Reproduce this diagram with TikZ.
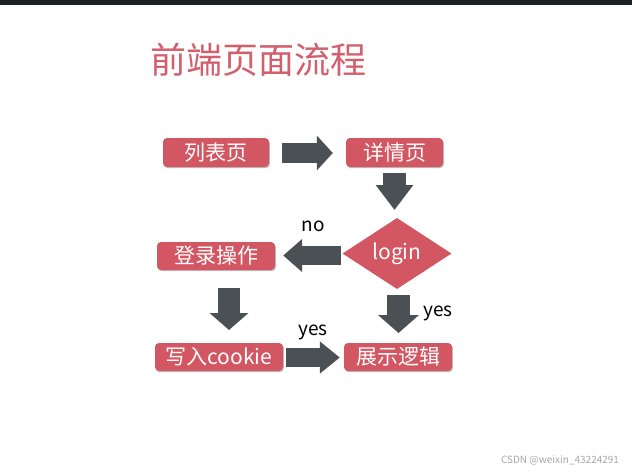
\documentclass[tikz,border=0pt]{standalone}
\usepackage{fontspec}
\setmainfont{Noto Sans CJK SC}
\usetikzlibrary{shapes.geometric,arrows.meta,shadows}
\definecolor{boxred}{HTML}{D35763}
\definecolor{titlered}{HTML}{D25F6C}
\definecolor{arrowgrey}{HTML}{4B5055}
\definecolor{topbar}{HTML}{1E2124}
\definecolor{wmgrey}{HTML}{A8A8A8}
\begin{document}
\begin{tikzpicture}[x=1pt,y=-1pt,
  box/.style={fill=boxred, rounded corners=4pt, text=white, inner sep=0pt,
    font=\fontsize{21}{23}\selectfont, anchor=center,
    drop shadow={shadow xshift=0.8pt, shadow yshift=-1.2pt, opacity=0.25, fill=black}},
  decision/.style={diamond, fill=boxred, text=white, inner sep=0pt,
    font=\fontsize{21}{23}\selectfont, minimum width=109pt, minimum height=67pt},
  blockarrow/.style={draw=arrowgrey, line cap=butt, line width=#1},
  lbl/.style={font=\fontsize{19}{21}\selectfont, text=black, inner sep=0pt}
]
\useasboundingbox (0,0) rectangle (632,475);
\fill[white] (0,0) rectangle (632,475);
\fill[topbar] (0,0) rectangle (632,5);

\node[text=titlered, font=\fontsize{36}{40}\selectfont, inner sep=0pt] (title) at (258,60) {前端页面流程};

\node[box, minimum width=106pt, minimum height=29pt] (list) at (216,152.5) {列表页};
\node[box, minimum width=97pt, minimum height=29pt] (detail) at (394.5,152.5) {详情页};
\node[decision] (login) at (397,253.5) {login};
\node[box, minimum width=118pt, minimum height=28pt] (signin) at (216,256) {登录操作};
\node[box, minimum width=128pt, minimum height=28pt] (cookie) at (219,357) {写入cookie};
\node[box, minimum width=108pt, minimum height=28pt] (show) at (398,357) {展示逻辑};

% block arrows
\draw[blockarrow=20pt, -{Triangle[length=16pt,width=34pt]}, fill=arrowgrey,
  shorten <=13pt, shorten >=13pt]
  (list.east |- 0,153) -- (detail.west |- 0,153);
\coordinate (d1) at (394.5,167);
\coordinate (d2) at (394.5,220);
\draw[blockarrow=23pt, -{Triangle[length=25pt,width=36pt]}, fill=arrowgrey,
  shorten <=6pt, shorten >=10pt] (d1) -- (d2);
\draw[blockarrow=19pt, -{Triangle[length=19pt,width=32pt]}, fill=arrowgrey,
  shorten <=1pt, shorten >=8pt]
  (login.west |- 0,255.5) -- (signin.east |- 0,255.5);
\coordinate (l1) at (229,269);
\coordinate (l2) at (229,343);
\draw[blockarrow=22pt, -{Triangle[length=17pt,width=38pt]}, fill=arrowgrey,
  shorten <=19pt, shorten >=13pt] (l1) -- (l2);
\coordinate (r1) at (398.5,287);
\coordinate (r2) at (398.5,343);
\draw[blockarrow=23pt, -{Triangle[length=18pt,width=40pt]}, fill=arrowgrey,
  shorten <=8pt, shorten >=10pt] (r1) -- (r2);
\draw[blockarrow=19pt, -{Triangle[length=20pt,width=31pt]}, fill=arrowgrey,
  shorten <=3pt, shorten >=4pt]
  (cookie.east |- 0,357.5) -- (show.west |- 0,357.5);

% labels
\node[lbl] (no) at (313,226) {no};
\node[lbl] (yes1) at (438,313) {yes};
\node[lbl] (yes2) at (313,332) {yes};

\node[text=wmgrey, font=\fontsize{10}{12}\selectfont, inner sep=0pt] (wm) at (560,460) {CSDN @weixin\_43224291};
\end{tikzpicture}
\end{document}
